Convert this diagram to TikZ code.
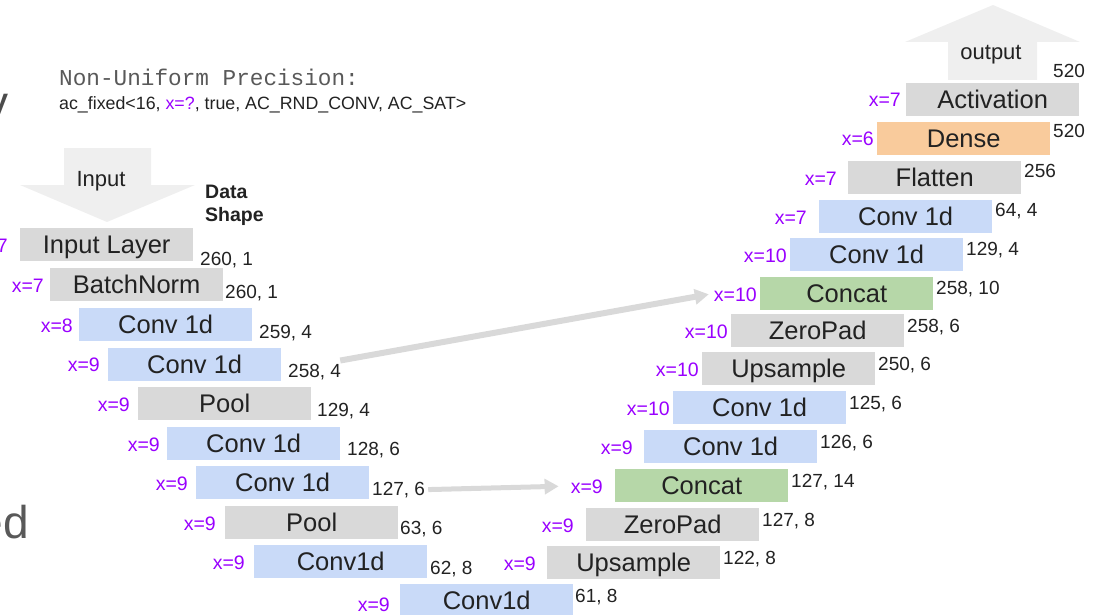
\documentclass[tikz,border=0pt]{standalone}
\usepackage{fontspec}
\setmainfont{Liberation Sans}
\setmonofont{Liberation Mono}
\usetikzlibrary{arrows.meta}
\definecolor{boxgray}{HTML}{D9D9D9}
\definecolor{boxblue}{HTML}{C9DAF8}
\definecolor{boxgreen}{HTML}{B6D7A8}
\definecolor{boxorange}{HTML}{F9CB9C}
\definecolor{xpurple}{HTML}{9900FF}
\definecolor{bigarrow}{HTML}{EFEFEF}
\definecolor{skipgray}{HTML}{D9D9D9}
\definecolor{txtdark}{HTML}{222222}
\tikzset{
  layer/.style={anchor=north west, minimum width=173pt, minimum height=33pt, inner sep=0pt,
    text height=18.5pt, text depth=0pt, text=txtdark, font=\fontsize{25.5}{28}\selectfont},
  gbox/.style={layer, fill=boxgray},
  bbox/.style={layer, fill=boxblue},
  cbox/.style={layer, fill=boxgreen},
  obox/.style={layer, fill=boxorange},
  xlab/.style={anchor=base east, inner sep=0pt, text=xpurple, font=\fontsize{19.5}{21}\selectfont},
  shapelabL/.style={anchor=base west, inner sep=0pt, text=txtdark, font=\fontsize{19}{21}\selectfont},
  shapelabR/.style={anchor=base west, inner sep=0pt, text=txtdark, font=\fontsize{19}{21}\selectfont},
  skiparrow/.style={draw=skipgray, line width=6pt, -{Triangle[length=14pt,width=15pt]}},
}
\begin{document}
\begin{tikzpicture}[x=1pt, y=-1pt]
\useasboundingbox (0,0) rectangle (1097,615);

% cut-off slide text at the left edge
\node[anchor=base east, inner sep=0pt, text=black!70, font=\fontsize{46}{50}\selectfont] (fragy) at (9,119) {y};
\node[anchor=base east, inner sep=0pt, text=black!65, font=\fontsize{46}{50}\selectfont] (frage) at (29,538) {ed};

% title
\node[anchor=base west, inner sep=0pt, text=black!65, font=\ttfamily\fontsize{22.7}{24}\selectfont] (title) at (59,86) {Non-Uniform Precision:};
\node[anchor=base west, inner sep=0pt, text=txtdark, font=\fontsize{17.8}{20}\selectfont] (sub) at (59,110) {ac\_fixed<16, \textcolor{xpurple}{x=?}, true, AC\_RND\_CONV, AC\_SAT>};

% input arrow
\fill[bigarrow] (64,148) -- (151,148) -- (151,185) -- (195,185) -- (107,222) -- (20,185) -- (64,185) -- cycle;
\node[anchor=base, inner sep=0pt, text=txtdark, font=\fontsize{22}{24}\selectfont] (inlab) at (101,186) {Input};
\node[anchor=base west, inner sep=0pt, font=\bfseries\fontsize{19.5}{21}\selectfont, text=txtdark] (ds1) at (205,198) {Data};
\node[anchor=base west, inner sep=0pt, font=\bfseries\fontsize{19.5}{21}\selectfont, text=txtdark] (ds2) at (205,221) {Shape};

% output arrow
\fill[bigarrow] (948,80) -- (948,42) -- (905,42) -- (993,5) -- (1080,42) -- (1037,42) -- (1037,80) -- cycle;
\node[anchor=base, inner sep=0pt, text=txtdark, font=\fontsize{22}{24}\selectfont] (outlab) at (991,60) {output};

% ---------------- left (encoder) column ----------------
\node[gbox] (l1) at (20,228) {Input Layer};
\node[gbox] (l2) at (50,268) {BatchNorm};
\node[bbox] (l3) at (79,308) {Conv 1d};
\node[bbox] (l4) at (108,348) {Conv 1d};
\node[gbox] (l5) at (138,387) {Pool};
\node[bbox] (l6) at (167,427) {Conv 1d};
\node[bbox] (l7) at (196,466) {Conv 1d};
\node[gbox] (l8) at (225,506) {Pool};
\node[bbox] (l9) at (254,545) {Conv1d};
\node[bbox] (l10) at (400,584) {Conv1d};

\node[xlab] (xl1) at (8,252) {x=7};
\node[xlab] (xl2) at (44,292) {x=7};
\node[xlab] (xl3) at (73,332) {x=8};
\node[xlab] (xl4) at (100,371) {x=9};
\node[xlab] (xl5) at (130,411) {x=9};
\node[xlab] (xl6) at (160,451) {x=9};
\node[xlab] (xl7) at (188,490) {x=9};
\node[xlab] (xl8) at (216,530) {x=9};
\node[xlab] (xl9) at (245,569) {x=9};
\node[xlab] (xl10) at (390,611) {x=9};

\node[shapelabL] (s1) at (200,265) {260, 1};
\node[shapelabL] (s2) at (225,298) {260, 1};
\node[shapelabL] (s3) at (259,338) {259, 4};
\node[shapelabL] (s4) at (288,377) {258, 4};
\node[shapelabL] (s5) at (317,416) {129, 4};
\node[shapelabL] (s6) at (347,455) {128, 6};
\node[shapelabL] (s7) at (372,495) {127, 6};
\node[shapelabL] (s8) at (400,534) {63, 6};
\node[shapelabL] (s9) at (430,574) {62, 8};
\node[shapelabR] (s10) at (575,602) {61, 8};

% ---------------- right (decoder) column ----------------
\node[gbox] (r1) at (547,546) {Upsample};
\node[gbox] (r2) at (586,508) {ZeroPad};
\node[cbox] (r3) at (615,469) {Concat};
\node[bbox] (r4) at (644,430) {Conv 1d};
\node[bbox] (r5) at (673,391) {Conv 1d};
\node[gbox] (r6) at (702,352) {Upsample};
\node[gbox] (r7) at (731,314) {ZeroPad};
\node[cbox] (r8) at (760,277) {Concat};
\node[bbox] (r9) at (790,238) {Conv 1d};
\node[bbox] (r10) at (819,200) {Conv 1d};
\node[gbox] (r11) at (848,161) {Flatten};
\node[obox] (r12) at (877,122) {Dense};
\node[gbox] (r13) at (906,83) {Activation};

\node[xlab] (xr1) at (536,570) {x=9};
\node[xlab] (xr2) at (574,532) {x=9};
\node[xlab] (xr3) at (603,493) {x=9};
\node[xlab] (xr4) at (633,454) {x=9};
\node[xlab] (xr5) at (670,415) {x=10};
\node[xlab] (xr6) at (699,376) {x=10};
\node[xlab] (xr7) at (728,338) {x=10};
\node[xlab] (xr8) at (757,301) {x=10};
\node[xlab] (xr9) at (787,262) {x=10};
\node[xlab] (xr10) at (807,224) {x=7};
\node[xlab] (xr11) at (837,185) {x=7};
\node[xlab] (xr12) at (874,146) {x=6};
\node[xlab] (xr13) at (901,107) {x=7};

\node[shapelabR] (t1) at (723,564) {122, 8};
\node[shapelabR] (t2) at (762,526) {127, 8};
\node[shapelabR] (t3) at (791,487) {127, 14};
\node[shapelabR] (t4) at (820,448) {126, 6};
\node[shapelabR] (t5) at (849,409) {125, 6};
\node[shapelabR] (t6) at (878,370) {250, 6};
\node[shapelabR] (t7) at (907,332) {258, 6};
\node[shapelabR] (t8) at (936,294) {258, 10};
\node[shapelabR] (t9) at (966,255) {129, 4};
\node[shapelabR] (t10) at (995,216) {64, 4};
\node[shapelabR] (t11) at (1024,177) {256};
\node[shapelabR] (t12) at (1053,138) {520};
\node[shapelabR] (t13) at (1053,78) {520};

% skip connections
\draw[skiparrow] ([xshift=-1pt,yshift=3pt]s4.north east) -- ([xshift=-5pt]xr8.west);
\draw[skiparrow, line width=5pt] ([xshift=3pt]s7.east) -- ([xshift=-12pt]xr3.west);
\end{tikzpicture}
\end{document}
